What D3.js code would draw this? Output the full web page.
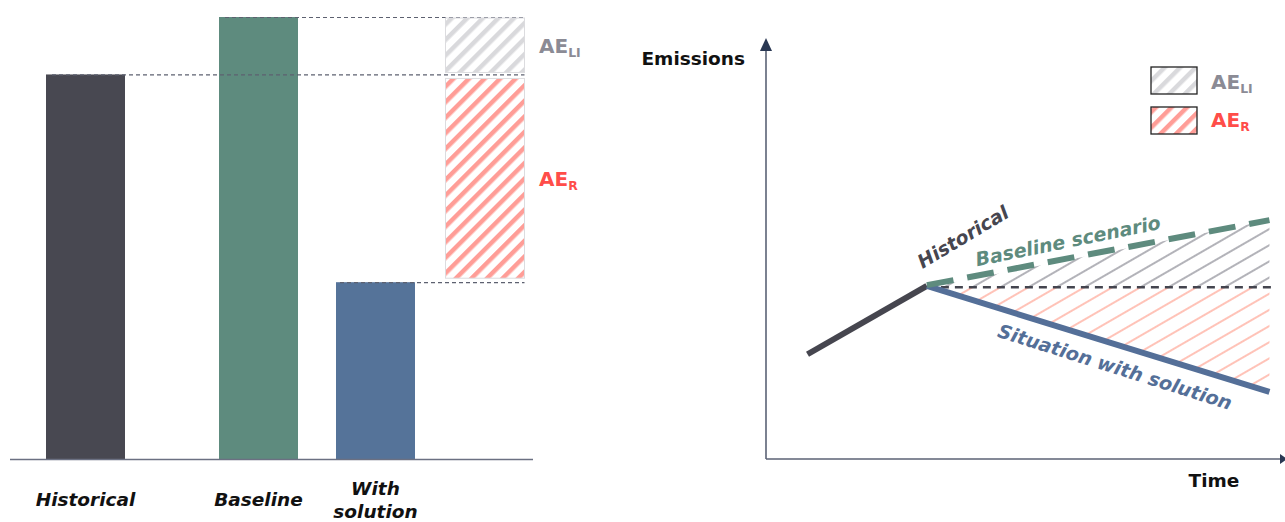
<!DOCTYPE html>
<html><head><meta charset="utf-8">
<script src="https://cdn.jsdelivr.net/npm/d3@7"></script>
<style>
body{margin:0;background:#fff;}
svg{display:block;font-family:"DejaVu Sans",sans-serif;}
</style></head>
<body><svg id="c" width="1285" height="522"></svg>
<script>
// ---- Data ----
const categories = ["Historical", "Baseline", "With solution"];
const barValues = [87, 100, 40];
const barColors = ["#484851", "#5e8b7e", "#557399"];
const aeLI = [87, 100];   // gap between historical and baseline
const aeR = [40, 87];     // gap between solution and historical

// right chart (schematic time series)
const histTimes = [8, 31];
const histValues = [25, 41.3];
const baseTimes = [31, 97];
const baseValues = [41.5, 57];
const solTimes = [31, 97];
const solValues = [41.3, 16];
const refLevel = 41;

const svg = d3.select("#c");
const defs = svg.append("defs");

function stripe(id, color, size, w, angle){
  const p = defs.append("pattern").attr("id", id).attr("patternUnits","userSpaceOnUse")
    .attr("width", size).attr("height", size).attr("patternTransform", `rotate(${angle})`);
  p.append("rect").attr("width", w).attr("height", size).attr("fill", color);
}
stripe("stripeGray", "#d9d9dc", 11, 4.5, 45);
stripe("stripeRed", "#ff9d97", 11, 4.5, 45);
function lines(id, color, size, angle){
  const p = defs.append("pattern").attr("id", id).attr("patternUnits","userSpaceOnUse")
    .attr("width", size).attr("height", size).attr("patternTransform", `rotate(${angle})`);
  p.append("line").attr("x1",0).attr("y1",size/2).attr("x2",size).attr("y2",size/2)
    .attr("stroke", color).attr("stroke-width", 1.2);
}
lines("linesGray", "#80808a", 14, -30);
lines("linesRed", "#ff9a88", 14, -30);

// ---- Left chart ----
const barX = d3.scaleOrdinal().domain([...categories, "AE"]).range([85.5, 258.5, 375.5, 485]);
const barW = 79;
const yL = d3.scaleLinear().domain([0, 100]).range([459, 17]);

const gL = svg.append("g");
gL.selectAll("rect.bar").data(categories).join("rect").attr("class","bar")
  .attr("x", d => barX(d) - barW/2)
  .attr("y", (d,i) => yL(barValues[i]))
  .attr("width", barW)
  .attr("height", (d,i) => yL(0) - yL(barValues[i]))
  .attr("fill", (d,i) => barColors[i]);

const aeX = barX("AE") - barW/2;
const dashDefs = [
  {v: barValues[1], from: barX("Baseline") - barW/2 + 6},
  {v: barValues[0], from: barX("Historical") - barW/2 + 6},
  {v: barValues[2], from: barX("With solution") - barW/2 + 4}
];
gL.selectAll("line.ref").data(dashDefs).join("line").attr("class","ref")
  .attr("x1", d => d.from).attr("x2", aeX + barW)
  .attr("y1", d => yL(d.v) + 0.5).attr("y2", d => yL(d.v) + 0.5)
  .attr("stroke", "#5d6170").attr("stroke-width", 1.2).attr("stroke-dasharray","4,3");

gL.append("rect").attr("x", aeX).attr("y", yL(aeLI[1]) + 1).attr("width", barW)
  .attr("height", yL(aeLI[0]) - yL(aeLI[1]) - 3)
  .attr("fill","url(#stripeGray)").attr("stroke","#dcdcdf").attr("stroke-width",1);
gL.append("rect").attr("x", aeX).attr("y", yL(aeR[1]) + 4).attr("width", barW)
  .attr("height", yL(aeR[0]) - yL(aeR[1]) - 8)
  .attr("fill","url(#stripeRed)").attr("stroke","#dcdcdf").attr("stroke-width",1);

function aeLabel(g, x, y, sub, color, size){
  const t = g.append("text").attr("x", x).attr("y", y).attr("fill", color)
    .attr("font-weight", 700).attr("font-size", size);
  t.append("tspan").text("AE");
  t.append("tspan").attr("dy", 4).attr("font-size", size*0.62).text(sub);
}
aeLabel(gL, 539, 53, "LI", "#8b8b95", 20);
aeLabel(gL, 539, 186, "R", "#ff4d49", 20);

gL.append("line").attr("x1", 10).attr("x2", 533).attr("y1", yL(0)+0.5).attr("y2", yL(0)+0.5)
  .attr("stroke", "#6b7082").attr("stroke-width", 1.6);

const labelLines = [["Historical"], ["Baseline"], ["With", "solution"]];
categories.forEach((c, i) => {
  const ls = labelLines[i];
  const t = gL.append("text").attr("text-anchor","middle").attr("font-style","italic")
    .attr("font-weight", 700).attr("font-size", 18.5).attr("fill","#111");
  ls.forEach((l, j) => {
    t.append("tspan").attr("x", barX(c)).attr("y", ls.length === 1 ? 506 : 495 + j*23).text(l);
  });
});

// ---- Right chart ----
const xR = d3.scaleLinear().domain([0, 100]).range([766, 1285]);
const yR = d3.scaleLinear().domain([0, 100]).range([459, 40]);
const gR = svg.append("g");

const pt = (t, v) => [xR(t), yR(v)];
const grayPoly = [pt(baseTimes[0]+0.5, refLevel), pt(baseTimes[1], baseValues[1]), pt(baseTimes[1], refLevel)];
const redPoly = [pt(solTimes[0]+0.5, refLevel), pt(solTimes[1], refLevel), pt(solTimes[1], solValues[1])];
defs.append("clipPath").attr("id","clipGray").append("polygon").attr("points", grayPoly.join(" "));
defs.append("clipPath").attr("id","clipRed").append("polygon").attr("points", redPoly.join(" "));
gR.append("rect").attr("x", xR(0)).attr("y", yR(100)).attr("width", xR(100)-xR(0)).attr("height", yR(0)-yR(100))
  .attr("fill","url(#linesGray)").attr("clip-path","url(#clipGray)");
gR.append("rect").attr("x", xR(0)).attr("y", yR(100)).attr("width", xR(100)-xR(0)).attr("height", yR(0)-yR(100))
  .attr("fill","url(#linesRed)").attr("clip-path","url(#clipRed)");

const line = d3.line().x(d => xR(d[0])).y(d => yR(d[1]));
gR.append("path").attr("d", line([[solTimes[0], refLevel], [solTimes[1]+0.5, refLevel]]))
  .attr("stroke","#44454f").attr("stroke-width",2.6).attr("stroke-dasharray","8,6").attr("fill","none");
gR.append("path").attr("d", line(histTimes.map((t,i)=>[t, histValues[i]])))
  .attr("stroke","#46464f").attr("stroke-width",6).attr("fill","none");
gR.append("path").attr("d", line(solTimes.map((t,i)=>[t, solValues[i]])))
  .attr("stroke","#546f98").attr("stroke-width",6).attr("fill","none");
gR.append("path").attr("d", line(baseTimes.map((t,i)=>[t, baseValues[i]])))
  .attr("stroke","#5e8b7e").attr("stroke-width",6).attr("stroke-dasharray","27,14").attr("fill","none");

gR.append("line").attr("x1", xR(0)).attr("x2", xR(0)).attr("y1", yR(0)).attr("y2", 48)
  .attr("stroke","#5b6275").attr("stroke-width",1.6);
gR.append("path").attr("d", `M${xR(0)-6},51 L${xR(0)},38 L${xR(0)+6},51 Z`).attr("fill","#2a3853");
gR.append("line").attr("x1", xR(0)).attr("x2", 1281).attr("y1", yR(0)).attr("y2", yR(0))
  .attr("stroke","#5b6275").attr("stroke-width",1.6);
gR.append("path").attr("d", `M1280,${yR(0)-5} L1287,${yR(0)} L1280,${yR(0)+5} Z`).attr("fill","#2a3853");

gR.append("text").attr("x", 745).attr("y", 65).attr("text-anchor","end")
  .attr("font-weight",700).attr("font-size",18.5).attr("fill","#111").text("Emissions");
gR.append("text").attr("x", 1214).attr("y", 487).attr("text-anchor","middle")
  .attr("font-weight",700).attr("font-size",18.5).attr("fill","#111").text("Time");

function rotLabel(text, cx, cy, angle, color){
  gR.append("text").attr("transform", `translate(${cx},${cy}) rotate(${angle})`)
    .attr("text-anchor","middle").attr("dy","0.35em").attr("font-style","italic")
    .attr("font-weight",700).attr("font-size",19).attr("fill",color).text(text);
}
rotLabel("Historical", 963, 237, -31, "#46464f");
rotLabel("Baseline scenario", 1068, 241, -11.5, "#5e8b7e");
rotLabel("Situation with solution", 1115, 367, 17.5, "#546f98");

const legend = [{sub:"LI", fill:"url(#stripeGray)", color:"#8b8b95"}, {sub:"R", fill:"url(#stripeRed)", color:"#ff4d49"}];
legend.forEach((d, i) => {
  gR.append("rect").attr("x", 1151).attr("y", 67 + i*40).attr("width", 46).attr("height", 27)
    .attr("fill", d.fill).attr("stroke","#222").attr("stroke-width",1.3);
  aeLabel(gR, 1211, 89 + i*38, d.sub, d.color, 20);
});
</script></body></html>
